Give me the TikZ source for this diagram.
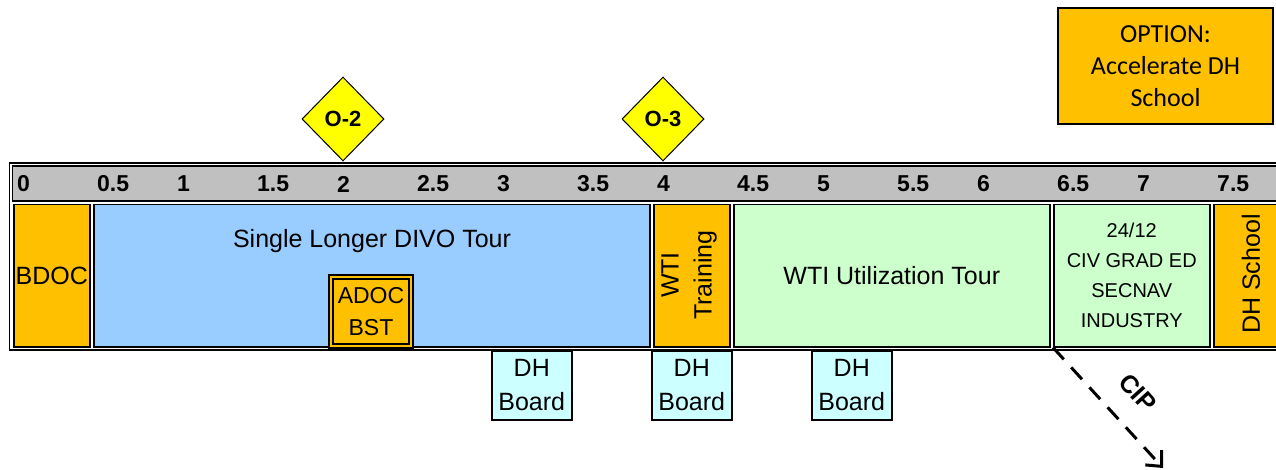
\documentclass[tikz,border=0pt]{standalone}
\usepackage{fontspec}
\setmainfont{Liberation Sans}
\newfontfamily\optionfont{Carlito}
\usepackage{tikz}
\usetikzlibrary{shapes.geometric,arrows.meta,positioning}

\definecolor{schoolorange}{RGB}{255,192,0}
\definecolor{tourblue}{RGB}{153,204,255}
\definecolor{utilgreen}{RGB}{204,255,204}
\definecolor{boardcyan}{RGB}{204,255,255}
\definecolor{bargray}{RGB}{192,192,192}
\definecolor{msyellow}{RGB}{255,255,0}

\begin{document}
\begin{tikzpicture}[x=1pt,y=-1pt,
  phase/.style={rectangle, draw, line width=1.5pt, inner sep=0pt, anchor=north west,
    minimum height=142pt, align=center, font=\fontsize{25}{33}\selectfont},
  board/.style={rectangle, draw, fill=boardcyan, line width=1.5pt, inner sep=0pt,
    anchor=north west, minimum width=80pt, minimum height=69pt, align=center,
    font=\fontsize{25}{34}\selectfont},
  tick/.style={anchor=west, inner sep=0pt, font=\bfseries\fontsize{23}{23}\selectfont},
  milestone/.style={diamond, draw, fill=msyellow, line width=1pt, inner sep=0pt,
    minimum width=82pt, minimum height=84pt, font=\bfseries\fontsize{22}{22}\selectfont}]
\useasboundingbox (0,0) rectangle (1276,470);
\clip (0,0) rectangle (1276,470);

% timeline frame and year bar
\draw[line width=1.5pt] (9.5,163) rectangle (1320,350);
\draw[line width=1.5pt, fill=bargray] (12.7,166.2) rectangle (1320,201);
\foreach \lbl [count=\k from 0] in {0,0.5,1,1.5,2,2.5,3,3.5,4,4.5,5,5.5,6,6.5,7,7.5}
  \node (tick\k) [tick] at ({17+80*\k},184) {\lbl};

% phases
\node (bdoc) [phase, fill=schoolorange, minimum width=76pt] at (13,204) {BDOC};
\node (divo) [phase, fill=tourblue, minimum width=556pt] at (93,204) {};
\node (divolabel) at (372,241) {\fontsize{25}{30}\selectfont Single Longer DIVO Tour};
\node (adoc) [rectangle, draw, double=schoolorange, double distance=2.5pt, line width=1.5pt,
  fill=schoolorange, minimum width=80pt, minimum height=69pt, inner sep=0pt, align=center,
  font=\fontsize{23}{32}\selectfont] at (371,311.5) {ADOC\\BST};
\node (wti) [phase, fill=schoolorange, minimum width=76pt] at (653,204) {};
\node (wtilabel) [rotate=90, align=center, font=\fontsize{25}{33}\selectfont] at (689,275) {WTI\\Training};
\node (util) [phase, fill=utilgreen, minimum width=316pt] at (733,204) {WTI Utilization Tour};
\node (grad) [phase, fill=utilgreen, minimum width=156pt, font=\fontsize{20}{30}\selectfont]
  at (1053,204) {24/12\\CIV GRAD ED\\SECNAV\\INDUSTRY};
\node (school) [phase, fill=schoolorange, minimum width=76pt] at (1213,204) {};
\node (schoollabel) [rotate=90, font=\fontsize{25}{30}\selectfont] at (1251,274) {DH School};

% milestones
\node (o2) [milestone] at (343,119) {O-2};
\node (o3) [milestone] at (663,119) {O-3};

% boards
\node (board1) [board] at (491,350) {DH\\Board};
\node (board2) [board] at (651,350) {DH\\Board};
\node (board3) [board] at (811,350) {DH\\Board};

% option
\node (option) [rectangle, draw, fill=schoolorange, line width=1.5pt, inner sep=0pt,
  minimum width=215pt, minimum height=116pt, align=center,
  font=\optionfont\fontsize{26}{32}\selectfont] at (1165.5,66) {OPTION:\\Accelerate DH\\School};

% CIP exit
\coordinate (cipend) at (1163,468);
\draw[line width=3pt, dash pattern=on 16pt off 11pt, -{Straight Barb[length=12pt,width=22pt]}]
  (grad.south west) -- (cipend);
\node (cip) [rotate=-48, font=\bfseries\fontsize{25}{25}\selectfont] at (1138,393) {CIP};
\end{tikzpicture}
\end{document}
